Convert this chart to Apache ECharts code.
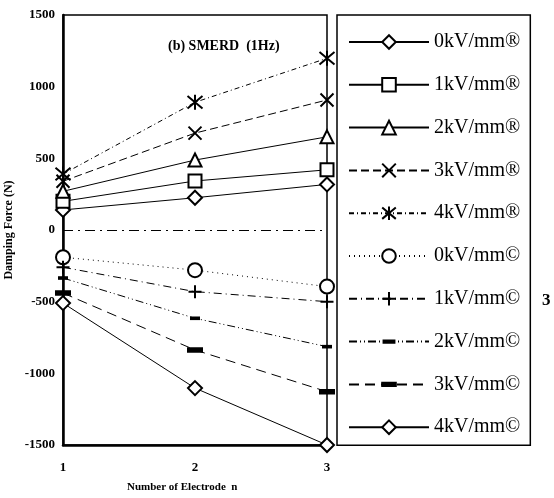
<!DOCTYPE html>
<html>
<head>
<meta charset="utf-8">
<script src="https://cdn.jsdelivr.net/npm/echarts@6/dist/echarts.min.js"></script>
<style>
    html, body { margin: 0; padding: 0; background: #fff; }
    #chart { width: 554px; height: 498px; }
</style>
</head>
<body>
<div id="chart"></div>
<script>
    // electrode count on x
    var electrodes = [1, 2, 3];
    var seriesNames = ['0kV/mm®', '1kV/mm®', '2kV/mm®', '3kV/mm®', '4kV/mm®',
                       '0kV/mm©', '1kV/mm©', '2kV/mm©', '3kV/mm©', '4kV/mm©'];
    // damping force (N)
    var f0kvR = [140, 225, 318];
    var f1kvR = [200, 342, 420];
    var f2kvR = [270, 488, 650];
    var f3kvR = [340, 676, 907];
    var f4kvR = [390, 891, 1198];
    var f0kvC = [-190, -280, -395];
    var f1kvC = [-260, -430, -500];
    var f2kvC = [-335, -616, -814];
    var f3kvC = [-440, -837, -1128];
    var f4kvC = [-510, -1103, -1500];
    var yTicks = [-1500, -1000, -500, 0, 500, 1000, 1500];

    var allValues = [f0kvR, f1kvR, f2kvR, f3kvR, f4kvR, f0kvC, f1kvC, f2kvC, f3kvC, f4kvC];

    var X_PATH = 'path://M0,0L10,10M10,0L0,10';
    var STAR_PATH = 'path://M0,1L10,11M10,1L0,11M5,0L5,12';
    var PLUS_PATH = 'path://M5,0L5,10M0,5L10,5';
    var DASH_PATH = 'path://M0,0M12,12M0,4.5L12,4.5L12,7.5L0,7.5Z';
    var DOT_PATH = 'path://M0,0M10,10M1,4.2L9,4.2L9,5.8L1,5.8Z';

    // marker, size, line type per series
    var looks = [
        { symbol: 'emptyDiamond', size: 14, type: 'solid' },
        { symbol: 'emptyRect', size: 13, type: 'solid' },
        { symbol: 'emptyTriangle', size: 13, type: 'solid' },
        { symbol: X_PATH, size: 13, type: [8, 4] },
        { symbol: STAR_PATH, size: 15, type: [5, 3, 1, 3] },
        { symbol: 'emptyCircle', size: 14, type: [1, 4] },
        { symbol: PLUS_PATH, size: 13, type: [8, 4, 1, 4] },
        { symbol: DOT_PATH, size: 10, type: [8, 3, 1, 3, 1, 3] },
        { symbol: DASH_PATH, size: 14, type: [10, 6] },
        { symbol: 'emptyDiamond', size: 14, type: 'solid' }
    ];

    var serif = 'Liberation Serif';

    var series = seriesNames.map(function (name, i) {
        var s = {
            name: name,
            type: 'line',
            data: electrodes.map(function (x, j) { return [x, allValues[i][j]]; }),
            symbol: looks[i].symbol,
            symbolSize: looks[i].size,
            showAllSymbol: true,
            clip: false,
            color: '#000',
            lineStyle: { color: '#000', width: 1, type: looks[i].type },
            itemStyle: { color: '#000', borderColor: '#000', borderWidth: 2 },
            emphasis: { disabled: true },
            z: 3
        };
        if (i === 0) {
            // dash-dot line at zero force
            s.markLine = {
                silent: true,
                symbol: 'none',
                label: { show: false },
                lineStyle: { color: '#000', width: 1, type: [10, 5, 2, 5] },
                data: [{ yAxis: 0 }]
            };
        }
        return s;
    });

    var chart = echarts.init(document.getElementById('chart'));
    chart.setOption({
        animation: false,
        backgroundColor: '#fff',
        title: {
            text: '(b) SMERD  (1Hz)',
            left: 163,
            top: 34,
            textStyle: { fontFamily: serif, fontSize: 14, fontWeight: 'bold', color: '#000' }
        },
        grid: {
            left: 63, right: 227, top: 15, bottom: 53,
            show: true, borderColor: '#000', borderWidth: 1.5, backgroundColor: 'transparent'
        },
        legend: {
            data: seriesNames,
            orient: 'vertical',
            left: 337,
            top: 15,
            padding: [17, 10, 8, 11],
            itemWidth: 80,
            itemHeight: 17,
            itemGap: 22.8,
            borderColor: '#000',
            borderWidth: 1.5,
            selectedMode: false,
            textStyle: { fontFamily: serif, fontSize: 20, color: '#000' }
        },
        xAxis: {
            type: 'value',
            min: 1, max: 3, interval: 1,
            axisLine: { onZero: false, lineStyle: { color: '#000', width: 2.5 } },
            axisTick: { show: false },
            splitLine: { show: false },
            axisLabel: { margin: 16, color: '#000', fontFamily: serif, fontSize: 13, fontWeight: 'bold' }
        },
        yAxis: {
            type: 'value',
            min: yTicks[0], max: yTicks[yTicks.length - 1], interval: 500,
            name: 'Damping Force (N)',
            nameLocation: 'middle',
            nameGap: 48,
            nameTextStyle: { fontFamily: serif, fontSize: 12, fontWeight: 'bold', color: '#000' },
            axisLine: { onZero: false, lineStyle: { color: '#000', width: 2.5 } },
            axisTick: { show: false },
            splitLine: { show: false },
            axisLabel: {
                margin: 8, color: '#000', fontFamily: serif, fontSize: 13, fontWeight: 'bold',
                formatter: function (v) { return String(v); }
            }
        },
        graphic: [
            {
                type: 'text', left: 127, top: 482,
                style: { text: 'Number of Electrode  n', font: 'bold 11px "Liberation Serif"', fill: '#000' }
            },
            {
                type: 'text', left: 542, top: 292,
                style: { text: '3', font: 'bold 17px "Liberation Serif"', fill: '#000' }
            }
        ],
        series: series
    });
</script>
</body>
</html>
